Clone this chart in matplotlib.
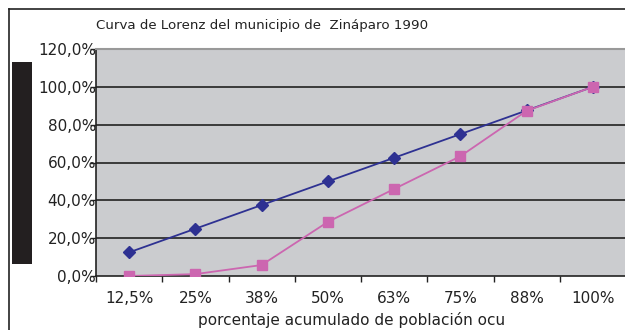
import matplotlib
matplotlib.use("Agg")
import matplotlib.pyplot as plt
from matplotlib.patches import Rectangle
from matplotlib.lines import Line2D
import numpy as np

# porcentajes acumulados
categorias = ["12,5%", "25%", "38%", "50%", "63%", "75%", "88%", "100%"]
igualdad = [12.5, 25.0, 37.5, 50.0, 62.5, 75.0, 87.5, 100.0]
ingreso = [0.0, 1.0, 5.8, 28.6, 46.0, 63.3, 87.3, 100.0]
yticks = [0, 20, 40, 60, 80, 100, 120]

W, H = 625, 330
fig = plt.figure(figsize=(W / 100, H / 100), dpi=100)
fig.patch.set_facecolor("white")

# marco exterior del grafico (solo borde izquierdo y superior visibles)
fig.add_artist(Line2D([8.5 / W, 8.5 / W], [0, 1 - 8.5 / H], color="#222222", lw=1.2))
fig.add_artist(Line2D([8.5 / W, 1], [1 - 8.5 / H, 1 - 8.5 / H], color="#222222", lw=1.2))

# barra negra a la izquierda
fig.add_artist(Rectangle((12 / W, 1 - 264 / H), 20 / W, 202 / H,
                         facecolor="#231f20", edgecolor="none"))

ax = fig.add_axes([96 / W, 1 - 276 / H, 530 / W, 227 / H])
ax.set_facecolor("#cbcccf")

x = np.arange(len(categorias))
ax.plot(x, igualdad, color="#2e3192", lw=1.3, marker="D", ms=6,
        markerfacecolor="#2e3192", markeredgecolor="#2e3192", zorder=3)
ax.plot(x, ingreso, color="#cc66b0", lw=1.3, marker="s", ms=7,
        markerfacecolor="#cc66b0", markeredgecolor="#cc66b0", zorder=4)

ax.set_xlim(-0.5, len(categorias) - 0.5)
ax.set_ylim(0, 120)
ax.set_yticks(yticks)
ax.set_yticklabels([f"{v:.1f}%".replace(".", ",") for v in yticks],
                   fontsize=11, color="#222222")
for v in yticks[1:-1]:
    ax.axhline(v, color="#222222", lw=1.2, zorder=1)

ax.set_xticks(x)
ax.set_xticklabels(categorias, fontsize=11, color="#222222")
ax.set_xticks(np.arange(len(categorias)) - 0.5, minor=True)
ax.tick_params(axis="x", which="major", length=0, pad=11)
ax.tick_params(axis="x", which="minor", length=4, width=1, color="#222222")
ax.tick_params(axis="y", length=4, width=1, color="#222222", pad=-4)

ax.spines["right"].set_visible(False)
ax.spines["top"].set_color("#999999")
ax.spines["top"].set_linewidth(1.5)
ax.spines["left"].set_color("#222222")
ax.spines["bottom"].set_color("#222222")
ax.spines["left"].set_linewidth(1.2)
ax.spines["bottom"].set_linewidth(1.2)

fig.text(262 / W, 1 - 25 / H, "Curva de Lorenz del municipio de  Zináparo 1990",
         ha="center", va="center", fontsize=9.6, color="#222222")
fig.text(352 / W, 1 - 320 / H, "porcentaje acumulado de población ocu",
         ha="center", va="center", fontsize=11, color="#222222")

fig.savefig("out.png", dpi=100)
